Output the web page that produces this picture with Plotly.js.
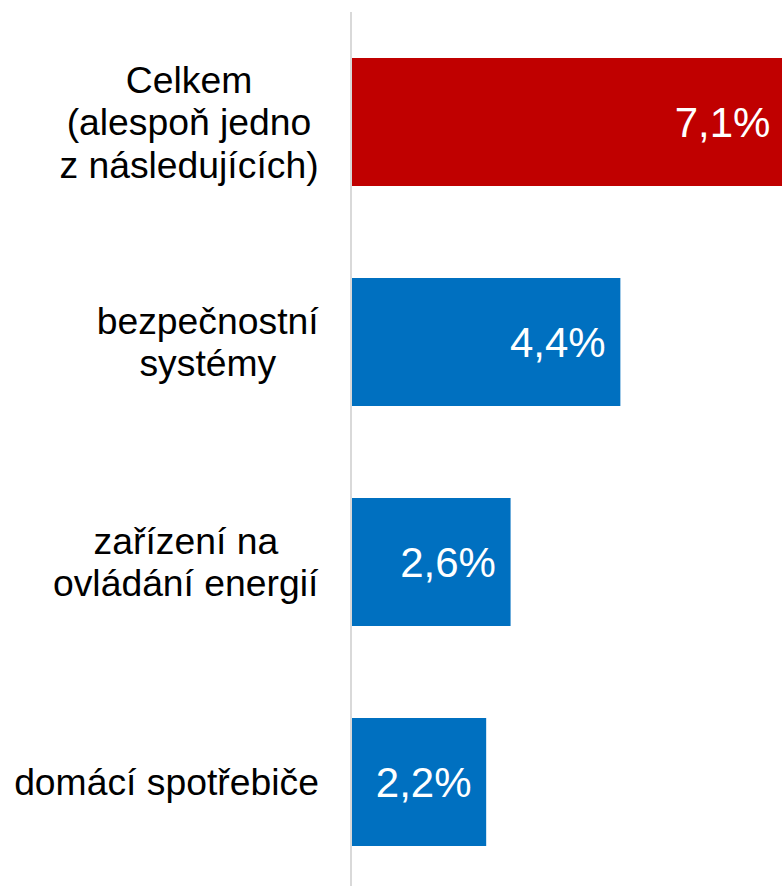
<!DOCTYPE html>
<html>
<head>
<meta charset="utf-8">
<script src="https://cdn.plot.ly/plotly-3.0.1.min.js"></script>
<style>
  html, body { margin: 0; padding: 0; background: #ffffff; }
  #chart { width: 782px; height: 886px; }
</style>
</head>
<body>
<div id="chart"></div>
<script>
// ---- data ----
const categories = [
  'Celkem<br>(alespoň jedno<br>z následujících)',
  'bezpečnostní<br>systémy',
  'zařízení na<br>ovládání energií',
  'domácí spotřebiče'
];
const values = [7.1, 4.4, 2.6, 2.2];
const barColors = ['#C00000', '#0070C0', '#0070C0', '#0070C0'];

// ---- styling ----
const FONT = 'Liberation Sans, Arial, sans-serif';
const LABEL_SIZE = 37.3;
const LINE_GAP = 42.5;

const canvas = document.createElement('canvas');
const ctx = canvas.getContext('2d');
ctx.font = LABEL_SIZE + 'px "Liberation Sans", Arial, sans-serif';

const annotations = [];
categories.forEach(function (cat) {
  const lines = cat.split('<br>');
  const maxW = Math.ceil(Math.max.apply(null, lines.map(function (l) { return ctx.measureText(l).width; }))) + 2;
  const n = lines.length;
  lines.forEach(function (line, j) {
    annotations.push({
      xref: 'paper', yref: 'y',
      x: 0, y: cat,
      xanchor: 'right', yanchor: 'middle',
      text: line,
      showarrow: false,
      width: maxW,
      align: 'center',
      xshift: -30,
      yshift: ((n - 1) / 2 - j) * LINE_GAP,
      font: { family: FONT, size: LABEL_SIZE, color: '#000000' }
    });
  });
});

const trace = {
  type: 'bar',
  orientation: 'h',
  x: values,
  y: categories,
  marker: { color: barColors, line: { width: 0 } },
  texttemplate: '%{x:.1f}%\u00a0',
  textposition: 'inside',
  insidetextanchor: 'end',
  textangle: 0,
  constraintext: 'none',
  insidetextfont: { family: FONT, size: 42, color: '#ffffff' },
  hoverinfo: 'skip'
};

const layout = {
  width: 782,
  height: 886,
  margin: { l: 352, r: 0, t: 12, b: 0, pad: 0 },
  paper_bgcolor: '#ffffff',
  plot_bgcolor: '#ffffff',
  separators: ', ',
  showlegend: false,
  bargap: 0.418,
  xaxis: {
    range: [0, 7.05],
    showgrid: false,
    zeroline: false,
    showline: false,
    showticklabels: false,
    ticks: ''
  },
  yaxis: {
    type: 'category',
    range: [3.4727, -0.5],
    autorange: false,
    showgrid: false,
    zeroline: false,
    showline: true,
    linecolor: '#D9D9D9',
    linewidth: 2,
    showticklabels: false,
    ticks: ''
  },
  annotations: annotations,
  hovermode: false
};

Plotly.newPlot('chart', [trace], layout, { displayModeBar: false, staticPlot: true });
</script>
</body>
</html>
